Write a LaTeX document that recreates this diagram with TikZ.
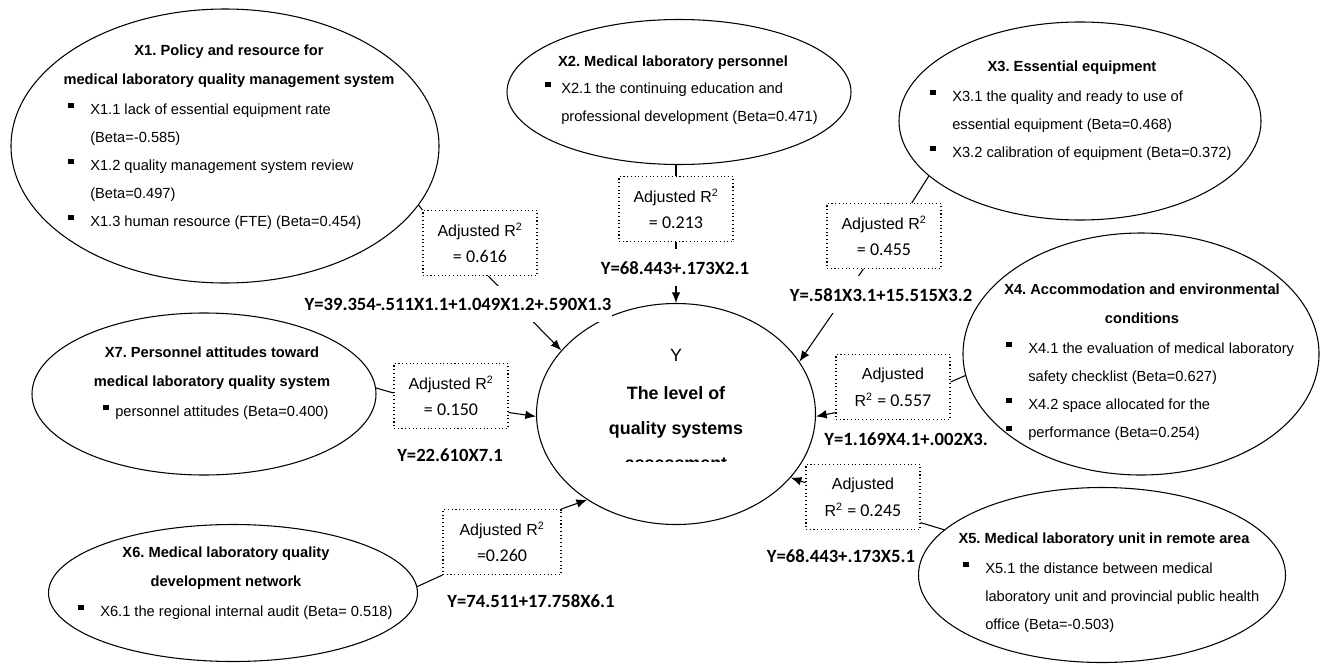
\documentclass[tikz,border=0pt]{standalone}
\usepackage{fontspec}
\setmainfont{Liberation Sans}
\newfontfamily\calfont{Carlito}
\usetikzlibrary{shapes.geometric}
\usetikzlibrary{arrows.meta}

\newcommand{\bul}[1][16.5pt]{\makebox[#1][l]{\rule[4.2pt]{4.2pt}{3.9pt}}}
\newcommand{\ind}[1][16.5pt]{\makebox[#1]{}}
\newcommand{\adjr}[1]{Adjusted R\textsuperscript{2}\\{\calfont\fontsize{13.5}{20}\selectfont #1}}

\begin{document}
\frenchspacing
\begin{tikzpicture} [
    x=0.75pt, y=-0.75pt,
    factor/.style  = { ellipse, draw=black, line width=0.8pt, inner sep=0pt },
    ftitle/.style  = { anchor=base, align=center, inner sep=0pt,
                       font=\fontsize{11}{21.75}\selectfont\bfseries },
    body/.style    = { anchor=base west, align=left, inner sep=0pt,
                       font=\fontsize{11}{21}\selectfont },
    rbox/.style    = { rectangle, draw=black, line width=0.8pt, dotted,
                       align=center, minimum width=85.5pt, minimum height=48.75pt,
                       inner sep=0pt, font=\fontsize{12}{20}\selectfont },
    eqn/.style     = { anchor=base, fill=white, inner xsep=0.5pt, inner ysep=9pt,
                       font=\fontsize{14}{16}\selectfont\calfont\bfseries },
    line/.style    = { draw, line width=0.8pt },
    arrowline/.style = { -{Latex[length=8pt,width=6.5pt]} },
  ]
\useasboundingbox (0,0) rectangle (1325,664);

% factors (multi-line texts sit on the baseline of their last line)
\node [factor, minimum width=321pt,    minimum height=205.5pt]  (x1) at (225,146) {};
\node [factor, minimum width=258pt,    minimum height=108.75pt] (x2) at (679,92)  {};
\node [factor, minimum width=271.5pt,  minimum height=148.5pt]  (x3) at (1080,121) {};
\node [factor, minimum width=267pt,    minimum height=181.5pt]  (x4) at (1141,354) {};
\node [factor, minimum width=275.25pt, minimum height=131.25pt] (x5) at (1102,575) {};
\node [factor, minimum width=276.75pt, minimum height=102.75pt] (x6) at (233,593) {};
\node [factor, minimum width=258pt,    minimum height=121.5pt]  (x7) at (204,394) {};
\node [factor, minimum width=209.25pt, minimum height=165.75pt] (y)  at (676,414) {};

\node [ftitle] (x1title) at (229,84)
  {X1. Policy and resource for\\medical laboratory quality management system};
\node [body] (x1body) at (68,226)
  {\bul X1.1 lack of essential equipment rate\\ \ind (Beta=-0.585)\\
   \bul X1.2 quality management system review\\ \ind (Beta=0.497)\\
   \bul X1.3 human resource (FTE) (Beta=0.454)};
\node [ftitle] (x2title) at (673,66) {X2. Medical laboratory personnel};
\node [body] (x2body) at (545,121)
  {\bul[12pt]X2.1 the continuing education and\\
   \ind[12pt]professional development (Beta=0.471)};
\node [ftitle] (x3title) at (1072,71) {X3. Essential equipment};
\node [body] (x3body) at (930,157)
  {\bul X3.1 the quality and ready to use of\\ \ind essential equipment (Beta=0.468)\\
   \bul X3.2 calibration of equipment (Beta=0.372)};
\node [ftitle] (x4title) at (1142,323) {X4. Accommodation and environmental\\conditions};
\node [body] (x4body) at (1006,437)
  {\bul X4.1 the evaluation of medical laboratory\\ \ind safety checklist (Beta=0.627)\\
   \bul X4.2 space allocated for the\\ \bul performance (Beta=0.254)};
\node [ftitle] (x5title) at (1104,543) {X5. Medical laboratory unit in remote area};
\node [body] (x5body) at (963,629)
  {\bul X5.1 the distance between medical\\
   \ind laboratory unit and provincial public health\\ \ind office (Beta=-0.503)};
\node [ftitle] (x6title) at (226,586) {X6. Medical laboratory quality\\development network};
\node [body] (x6body) at (78,616) {\bul X6.1 the regional internal audit (Beta= 0.518)};
\node [ftitle] (x7title) at (212,386)
  {X7. Personnel attitudes toward\\medical laboratory quality system};
\node [body] (x7body) at (103,416) {\bul[9pt]personnel attitudes (Beta=0.400)};

\node [anchor=base, align=center, inner sep=0pt, font=\fontsize{13.4}{26.25}\selectfont]
  (ytext) at (676,434) {Y\\[2pt]\textbf{The level of}\\\textbf{quality systems}};
\begin{scope}
  \clip (600,440) rectangle (760,461.5);
  \node [anchor=base, inner sep=0pt, font=\fontsize{13.4}{16}\selectfont\bfseries]
    (ycut) at (676,469) {assessment};
\end{scope}

% adjusted R2 boxes
\node [rbox] (b1) at (480,243) {\adjr{= 0.616}};
\node [rbox] (b2) at (676,209) {\adjr{= 0.213}};
\node [rbox] (b3) at (884,236) {\adjr{= 0.455}};
\node [rbox] (b4) at (893,387) {Adjusted\\R\textsuperscript{2} {\calfont\fontsize{13.5}{20}\selectfont = 0.557}};
\node [rbox] (b5) at (863,497) {Adjusted\\R\textsuperscript{2} {\calfont\fontsize{13.5}{20}\selectfont = 0.245}};
\node [rbox, minimum width=88.5pt] (b6) at (502,542) {\adjr{=0.260}};
\node [rbox] (b7) at (451,396) {\adjr{= 0.150}};

\begin{scope} [every path/.style=line]
    \path (x1.-17)     --  (b1.north west);
    \path [arrowline] (b1.-76) -- (y.151);
    \path (b2.north)   --  (b2.north |- x2.south);
    \path [arrowline] (b2.south) -- (y.north);
    \path (x3.200)     --  (b3.50);
    \path [arrowline] (b3.-122) -- (y.23);
    \path (x4.187)     --  (b4.5);
    \path [arrowline] (b4.204) -- (y.-1);
    \path (x5.164)     --  (b5.-24);
    \path [arrowline] (b5.166) -- (y.-29);
    \path (x6.2)       --  (b6.south west);
    \path [arrowline] (b6.north east) -- (y.224);
    \path (x7.2)       --  (b7.177);
    \path [arrowline] (b7.-16) -- (y.181);
\end{scope}

\node [eqn] (e1) at (458,310) {Y=39.354-.511X1.1+1.049X1.2+.590X1.3};
\node [eqn] (e2) at (675,274) {Y=68.443+.173X2.1};
\node [eqn] (e3) at (881,301) {Y=.581X3.1+15.515X3.2};
\node [eqn] (e4) at (906,445) {Y=1.169X4.1+.002X3.};
\node [eqn] (e5) at (841,562) {Y=68.443+.173X5.1};
\node [eqn] (e6) at (531,607) {Y=74.511+17.758X6.1};
\node [eqn] (e7) at (450,461) {Y=22.610X7.1};

\end{tikzpicture}
\end{document}
